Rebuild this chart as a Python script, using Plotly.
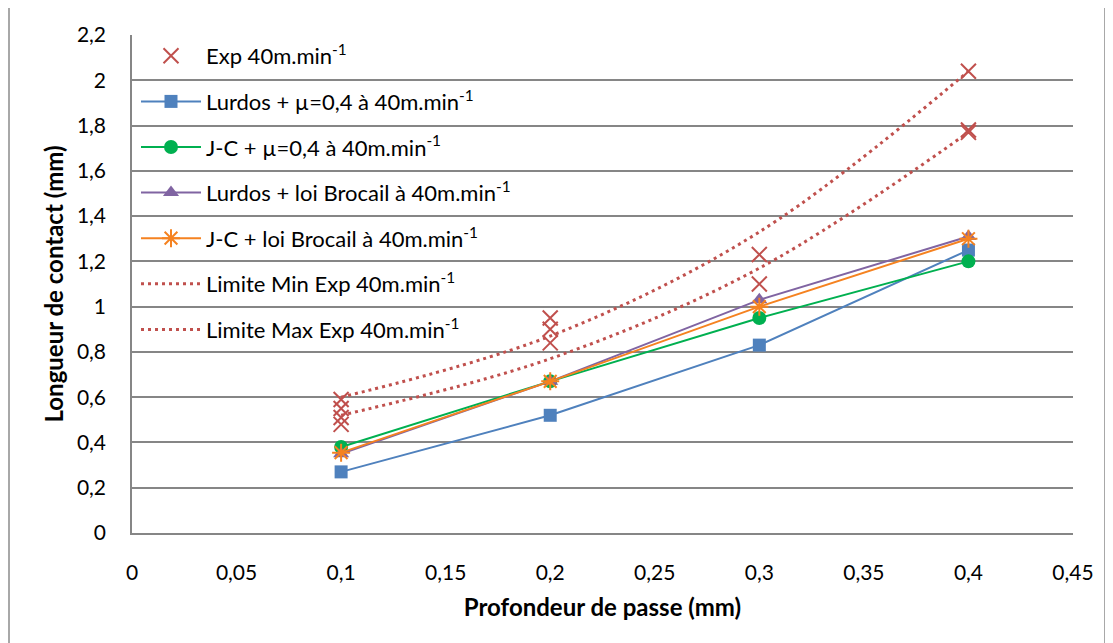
import plotly.graph_objects as go

# ---- data ----
profondeur = [0.1, 0.2, 0.3, 0.4]
exp_x = [0.1, 0.1, 0.1, 0.1, 0.2, 0.2, 0.2, 0.3, 0.3, 0.4, 0.4, 0.4]
exp_y = [0.59, 0.55, 0.51, 0.48, 0.95, 0.90, 0.84, 1.23, 1.10, 2.04, 1.78, 1.77]
lurdos_mu = [0.27, 0.52, 0.83, 1.25]
jc_mu = [0.38, 0.67, 0.95, 1.20]
lurdos_brocail = [0.35, 0.67, 1.03, 1.31]
jc_brocail = [0.355, 0.67, 1.00, 1.30]
limite_min = [0.52, 0.77, 1.17, 1.77]
limite_max = [0.60, 0.87, 1.33, 2.04]

x_ticks = [0, 0.05, 0.1, 0.15, 0.2, 0.25, 0.3, 0.35, 0.4, 0.45]
x_labels = ["0", "0,05", "0,1", "0,15", "0,2", "0,25", "0,3", "0,35", "0,4", "0,45"]
y_ticks = [0, 0.2, 0.4, 0.6, 0.8, 1, 1.2, 1.4, 1.6, 1.8, 2, 2.2]
y_labels = ["0", "0,2", "0,4", "0,6", "0,8", "1", "1,2", "1,4", "1,6", "1,8", "2", "2,2"]

SUP = "40m.min<sup>-1</sup>"
RED = "#C0504D"
BLUE = "#4F81BD"
GREEN = "#00B050"
PURPLE = "#8064A2"
ORANGE = "#F58220"

fig = go.Figure()

fig.add_trace(go.Scatter(
    x=exp_x, y=exp_y, mode="markers", name="Exp " + SUP, legendgroup="a",
    marker=dict(symbol="x-thin-open", size=15, color=RED, line=dict(color=RED, width=2))))
fig.add_trace(go.Scatter(
    x=profondeur, y=lurdos_mu, mode="lines+markers", name="Lurdos + µ=0,4 à " + SUP, legendgroup="b",
    line=dict(color=BLUE, width=2),
    marker=dict(symbol="square", size=13, color=BLUE)))
fig.add_trace(go.Scatter(
    x=profondeur, y=jc_mu, mode="lines+markers", name="J-C + µ=0,4 à " + SUP, legendgroup="c",
    line=dict(color=GREEN, width=2),
    marker=dict(symbol="circle", size=14, color=GREEN)))
fig.add_trace(go.Scatter(
    x=profondeur, y=lurdos_brocail, mode="lines+markers", name="Lurdos + loi Brocail à " + SUP, legendgroup="d",
    line=dict(color=PURPLE, width=2),
    marker=dict(symbol="triangle-up", size=14, color=PURPLE)))
fig.add_trace(go.Scatter(
    x=profondeur, y=jc_brocail, mode="lines+markers", name="J-C + loi Brocail à " + SUP, legendgroup="e",
    line=dict(color=ORANGE, width=2),
    marker=dict(symbol="asterisk-open", size=15, color=ORANGE, line=dict(color=ORANGE, width=2))))
fig.add_trace(go.Scatter(
    x=profondeur, y=limite_min, mode="lines", name="Limite Min Exp " + SUP, legendgroup="f",
    line=dict(color=RED, width=3, dash="3px,4px", shape="spline", smoothing=1)))
fig.add_trace(go.Scatter(
    x=profondeur, y=limite_max, mode="lines", name="Limite Max Exp " + SUP, legendgroup="g",
    line=dict(color=RED, width=3, dash="3px,4px", shape="spline", smoothing=1)))

# page has an 8px body margin: figure is placed at (8, 8)
OFF = 8
W, H = 1113 - OFF, 643 - OFF
L, R, T, B = 132 - OFF, 1073 - OFF, 35 - OFF, 533 - OFF

def px(xp):
    return (xp - OFF - L) / (R - L)

def py(yp):
    return (B - (yp - OFF)) / (B - T)

fig.add_shape(type="rect", xref="paper", yref="paper",
              x0=px(9), x1=px(1105), y0=py(660), y1=py(-20),
              line=dict(color="#8C8C8C", width=1.5), layer="below")

font_family = "Lato, 'Open Sans', sans-serif"

fig.update_layout(
    width=W, height=H,
    margin=dict(l=L, r=W - R, t=T, b=H - B, pad=0),
    paper_bgcolor="white", plot_bgcolor="white",
    font=dict(family=font_family, size=21, color="#000000"),
    showlegend=True,
    legend=dict(
        x=px(136), y=1.0, xanchor="left", yanchor="top",
        bgcolor="rgba(0,0,0,0)", borderwidth=0,
        traceorder="grouped", tracegroupgap=14,
        font=dict(family=font_family, size=22, color="#000000"),
        itemwidth=60,
    ),
    xaxis=dict(
        range=[0, 0.45], tickvals=x_ticks, ticktext=x_labels,
        showgrid=False, zeroline=False,
        showline=True, linecolor="#868686", linewidth=1.5,
        ticks="", ticklabelstandoff=20,
        tickfont=dict(size=21),
        title=dict(text="<b>Profondeur de passe (mm)</b>", standoff=16,
                   font=dict(family=font_family, size=24, color="#000000")),
    ),
    yaxis=dict(
        range=[0, 2.2], tickvals=y_ticks, ticktext=y_labels,
        showgrid=True, gridcolor="#868686", gridwidth=1.5,
        zeroline=False,
        showline=True, linecolor="#868686", linewidth=1.5,
        ticks="", ticklabelstandoff=20,
        tickfont=dict(size=21),
        title=dict(text="<b>Longueur de contact (mm)</b>", standoff=7,
                   font=dict(family=font_family, size=24, color="#000000")),
    ),
)

fig.write_html("out.html")
